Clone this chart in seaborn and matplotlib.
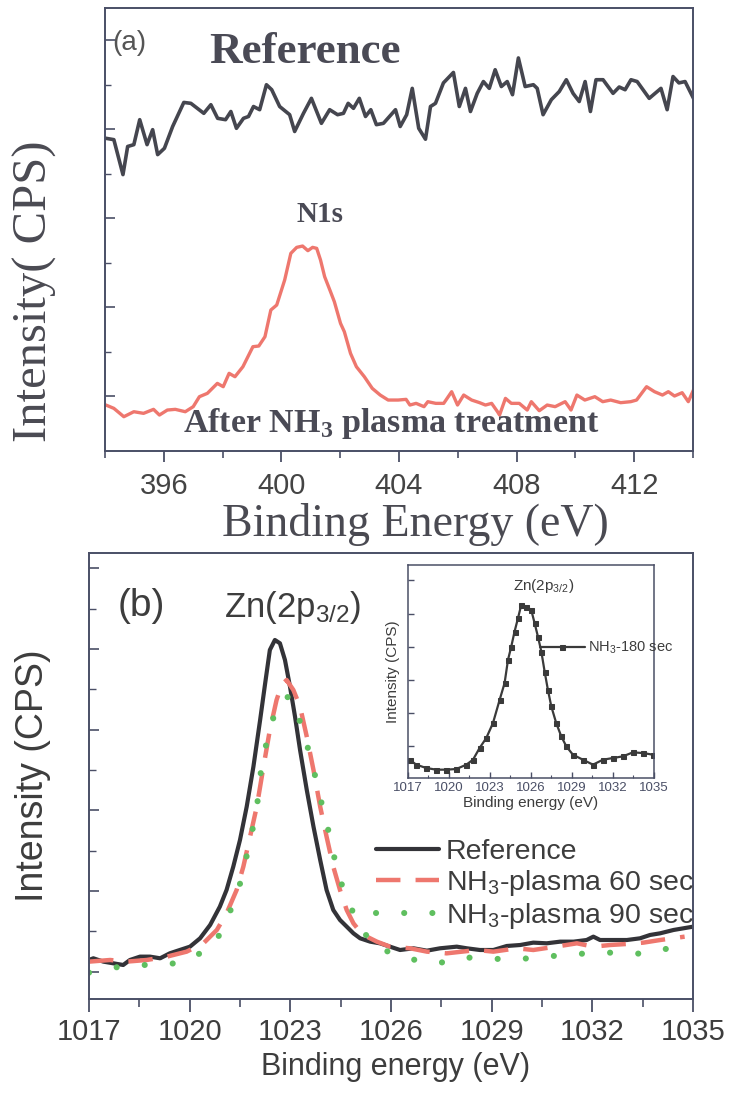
import numpy as np
import matplotlib
matplotlib.use("Agg")
import matplotlib.pyplot as plt
from matplotlib.ticker import FixedLocator, MultipleLocator
import seaborn as sns

sns.set_theme(style="ticks")
plt.rcParams.update({
    "font.family": ["Liberation Sans", "DejaVu Sans"],
    "mathtext.fontset": "custom",
    "mathtext.rm": "Liberation Sans",
    "mathtext.it": "Liberation Sans:italic",
    "mathtext.bf": "Liberation Serif:bold",
    "axes.edgecolor": "#4a4f66",
    "xtick.color": "#4a4f66",
    "ytick.color": "#4a4f66",
    "text.color": "#3d3d3d",
    "axes.labelcolor": "#3d3d3d",
})

# ---- panel (a): N1s, arbitrary intensity ----
ref_a_ev = [394.03, 394.30, 394.61, 394.77, 394.98, 395.18, 395.43, 395.62, 395.79, 396.02,
            396.30, 396.68, 396.92, 397.36, 397.60, 397.83, 398.10, 398.28, 398.47, 398.71,
            398.88, 399.05, 399.26, 399.49, 399.67, 399.94, 400.28, 400.45, 400.75, 401.02,
            401.36, 401.64, 401.91, 402.11, 402.27, 402.45, 402.65, 402.86, 403.04, 403.23,
            403.47, 403.88, 404.04, 404.26, 404.45, 404.67, 404.90, 405.07, 405.24, 405.51,
            405.85, 406.05, 406.26, 406.43, 406.66, 406.87, 407.07, 407.27, 407.48, 407.68,
            407.86, 408.06, 408.29, 408.57, 408.70, 408.90, 409.18, 409.45, 409.69, 409.92,
            410.13, 410.33, 410.51, 410.70, 410.94, 411.28, 411.49, 411.69, 411.89, 412.10,
            412.51, 412.91, 413.12, 413.32, 413.52, 413.73, 414.07]
ref_a_int = [71.3, 71.0, 63.3, 69.5, 69.9, 75.4, 69.9, 73.2, 67.7, 69.1,
             73.9, 79.2, 79.0, 76.8, 78.7, 75.7, 75.4, 77.2, 73.5, 75.7,
             76.1, 78.3, 77.6, 83.1, 82.0, 78.3, 76.5, 72.8, 76.8, 80.1,
             74.6, 77.6, 76.5, 76.8, 79.0, 77.9, 80.1, 76.1, 77.6, 74.3,
             74.6, 77.6, 73.9, 76.5, 82.3, 73.5, 71.1, 78.3, 79.0, 83.5,
             85.8, 78.3, 82.3, 77.2, 81.2, 83.8, 82.3, 86.4, 82.7, 83.8,
             80.9, 89.0, 82.7, 83.1, 82.3, 76.5, 79.8, 81.6, 84.2, 81.2,
             79.4, 83.8, 77.2, 84.2, 84.2, 81.2, 82.6, 82.0, 84.2, 83.8,
             80.1, 82.3, 77.6, 84.9, 83.5, 83.8, 79.4]

nh3_a_ev = [394.03, 394.30, 394.64, 394.98, 395.31, 395.65, 395.85, 396.12, 396.39, 396.73,
            397.00, 397.21, 397.48, 397.82, 398.02, 398.22, 398.42, 398.69, 399.03, 399.23,
            399.44, 399.64, 399.84, 400.11, 400.32, 400.52, 400.72, 400.90, 401.06, 401.20,
            401.33, 401.47, 401.67, 401.80, 402.01, 402.14, 402.35, 402.55, 402.82, 403.09,
            403.36, 403.63, 403.97, 404.24, 404.37, 404.58, 404.85, 404.98, 405.25, 405.52,
            405.79, 405.99, 406.20, 406.47, 406.74, 406.94, 407.15, 407.35, 407.42, 407.62,
            407.82, 408.09, 408.36, 408.50, 408.77, 409.04, 409.31, 409.65, 409.85, 410.05,
            410.32, 410.66, 410.93, 411.20, 411.54, 411.88, 412.08, 412.42, 412.69, 412.96,
            413.16, 413.37, 413.63, 413.84, 414.04]
nh3_a_int = [12.55, 11.82, 9.98, 11.08, 10.72, 11.60, 10.35, 11.45, 11.60, 11.08,
             12.19, 14.39, 15.12, 17.32, 16.59, 19.53, 18.79, 20.99, 25.40, 25.55,
             27.60, 33.48, 34.58, 40.08, 45.96, 47.28, 47.57, 46.55, 47.28, 47.06,
             44.49, 40.82, 37.51, 35.31, 30.54, 28.70, 23.93, 20.99, 18.79, 16.22,
             14.75, 13.65, 13.65, 13.80, 12.55, 12.92, 12.19, 13.29, 12.92, 12.92,
             15.49, 12.55, 14.75, 13.65, 13.07, 12.55, 12.92, 11.08, 10.35, 14.02,
             12.92, 12.92, 11.45, 13.29, 11.30, 12.55, 12.19, 13.29, 11.45, 14.75,
             13.65, 14.39, 13.29, 13.65, 13.07, 13.29, 13.65, 16.59, 15.49, 14.75,
             15.49, 14.54, 15.27, 13.29, 16.22]

# ---- panel (b): Zn 2p3/2 ----
ref_b_ev = [1017.00, 1017.13, 1017.43, 1017.72, 1018.02, 1018.22, 1018.52, 1018.82, 1019.12, 1019.41,
            1019.71, 1020.01, 1020.31, 1020.61, 1020.90, 1021.10, 1021.30, 1021.50, 1021.70, 1021.90,
            1022.10, 1022.25, 1022.39, 1022.54, 1022.69, 1022.84, 1022.99, 1023.14, 1023.29, 1023.49,
            1023.69, 1023.89, 1024.08, 1024.28, 1024.48, 1024.68, 1024.88, 1025.08, 1025.38, 1025.67,
            1025.97, 1026.27, 1026.67, 1027.07, 1027.46, 1027.96, 1028.26, 1028.65, 1029.05, 1029.45,
            1029.85, 1030.24, 1030.64, 1031.04, 1031.44, 1031.83, 1032.03, 1032.23, 1032.63, 1033.03,
            1033.42, 1033.72, 1034.02, 1034.42, 1035.00]
ref_b_int = [8.74, 9.12, 8.37, 8.00, 7.62, 8.74, 9.49, 9.49, 9.12, 10.24,
             10.99, 11.73, 13.60, 16.59, 20.70, 24.44, 29.67, 35.65, 43.12, 52.09,
             62.56, 70.78, 78.25, 80.49, 79.75, 76.01, 70.03, 63.30, 55.83, 46.86,
             38.64, 31.16, 24.44, 19.95, 17.71, 16.22, 14.72, 13.60, 12.85, 12.48,
             11.73, 10.98, 11.36, 10.83, 11.36, 11.73, 11.36, 10.98, 10.98, 11.88,
             12.10, 12.63, 12.48, 12.85, 12.85, 13.22, 13.97, 13.22, 13.22, 13.22,
             13.60, 14.35, 14.72, 15.47, 16.21]

p60_ev = [1017.00, 1017.63, 1018.12, 1018.72, 1019.32, 1019.91, 1020.41, 1020.81, 1021.10, 1021.40,
          1021.60, 1021.80, 1022.00, 1022.20, 1022.39, 1022.59, 1022.74, 1022.89, 1023.09, 1023.29,
          1023.49, 1023.69, 1023.89, 1024.08, 1024.28, 1024.48, 1024.68, 1024.88, 1025.08, 1025.28,
          1025.58, 1025.97, 1026.57, 1027.07, 1027.66, 1028.56, 1029.05, 1029.75, 1030.24, 1031.04,
          1031.54, 1032.03, 1032.53, 1033.03, 1033.52, 1034.02, 1034.75]
p60_int = [8.37, 8.74, 8.37, 8.74, 9.49, 10.61, 12.48, 15.47, 19.20, 24.44,
           29.67, 36.39, 43.12, 52.09, 60.31, 67.04, 70.40, 71.52, 69.28, 65.54,
           58.82, 51.34, 43.12, 36.39, 29.67, 24.44, 19.95, 16.96, 15.09, 13.97,
           12.85, 11.73, 11.36, 10.61, 10.23, 10.98, 10.61, 11.36, 10.98, 11.88,
           12.48, 11.73, 12.10, 12.33, 12.63, 13.22, 13.97]

p90_ev = [1017.00, 1017.18, 1017.92, 1018.62, 1019.32, 1019.91, 1020.71, 1021.05, 1021.35, 1021.55,
          1021.85, 1022.00, 1022.15, 1022.30, 1022.49, 1022.69, 1022.89, 1023.09, 1023.24, 1023.44,
          1023.64, 1023.79, 1023.98, 1024.13, 1024.28, 1024.48, 1024.68, 1024.88, 1025.13, 1025.38,
          1026.02, 1026.72, 1027.41, 1028.11, 1028.80, 1029.45, 1030.14, 1030.84, 1031.54, 1032.23,
          1032.93, 1033.57, 1034.27, 1035.00]
p90_int = [5.90, 6.13, 7.25, 7.62, 7.62, 8.74, 11.73, 16.96, 22.19, 27.05,
           37.14, 42.75, 52.84, 57.70, 62.93, 67.04, 67.79, 67.04, 63.30, 58.45,
           53.21, 48.35, 42.38, 37.89, 32.66, 26.68, 22.94, 19.20, 16.22, 12.48,
           10.23, 8.74, 7.99, 9.34, 9.11, 8.89, 9.11, 9.64, 10.08, 10.38,
           10.38, 10.08, 11.36, 12.10]

# ---- inset: NH3 180 sec ----
p180_ev = [1017.12, 1017.61, 1018.34, 1019.07, 1019.80, 1020.54, 1021.27, 1021.76, 1022.24, 1022.73,
           1023.22, 1023.71, 1024.07, 1024.32, 1024.56, 1024.80, 1025.05, 1025.29, 1025.66, 1026.02,
           1026.27, 1026.51, 1026.76, 1027.00, 1027.24, 1027.49, 1027.85, 1028.22, 1028.59, 1029.07,
           1029.80, 1030.54, 1031.27, 1032.00, 1032.73, 1033.46, 1034.20, 1034.93]
p180_int = [8.59, 6.25, 4.69, 3.91, 3.91, 4.22, 6.25, 8.59, 14.06, 18.75,
            25.78, 36.72, 44.53, 55.47, 61.72, 68.75, 75.00, 81.25, 80.47, 78.91,
            72.66, 66.41, 59.38, 50.00, 41.41, 33.59, 25.78, 19.53, 14.84, 10.94,
            8.59, 6.25, 8.59, 9.38, 10.16, 12.03, 11.72, 10.94]

a_ticks = [396, 400, 404, 408, 412]
b_ticks = [1017, 1020, 1023, 1026, 1029, 1032, 1035]

DARK = "#45464f"
RED = "#ee776e"
GREEN = "#5fbf5f"
SERIF = ["Liberation Serif", "DejaVu Serif"]

fig = plt.figure(figsize=(7.36, 10.95), dpi=100)

# ===================== (a) =====================
ax_a = fig.add_axes([0.1427, 0.5881, 0.7989, 0.4046])
sns.lineplot(x=ref_a_ev, y=ref_a_int, ax=ax_a, color=DARK, lw=2.6,
             estimator=None, sort=False)
sns.lineplot(x=nh3_a_ev, y=nh3_a_int, ax=ax_a, color=RED, lw=2.4,
             estimator=None, sort=False)
ax_a.set_xlim(394, 414)
ax_a.set_ylim(2.42, 100)
ax_a.set_xticks(a_ticks)
ax_a.xaxis.set_minor_locator(MultipleLocator(2))
ax_a.yaxis.set_major_locator(FixedLocator(np.arange(14.54, 100, 19.6)))
ax_a.yaxis.set_minor_locator(FixedLocator(np.arange(24.34, 100, 19.6)))
ax_a.set_yticklabels([])
ax_a.tick_params(axis="x", which="major", direction="out", length=8, width=1.3,
                 labelsize=21, pad=7, labelcolor="#444444")
ax_a.tick_params(axis="x", which="minor", direction="out", length=5, width=1.2)
ax_a.tick_params(axis="y", which="major", direction="in", length=7, width=1.2)
ax_a.tick_params(axis="y", which="minor", direction="in", length=4, width=1.0)
for s in ax_a.spines.values():
    s.set_linewidth(1.4)
ax_a.set_xlabel("Binding Energy (eV)", fontsize=33, family=SERIF, color="#4a4a52")
ax_a.xaxis.set_label_coords(0.527, -0.118)
ax_a.set_ylabel("Intensity( CPS)", fontsize=35, family=SERIF, color="#4a4a52")
ax_a.yaxis.set_label_coords(-0.082, 0.36)
ax_a.text(0.012, 0.92, "(a)", transform=ax_a.transAxes, fontsize=20,
          color="#555555", va="center", ha="left")
ax_a.text(0.34, 0.90, "Reference", transform=ax_a.transAxes, fontsize=32.5,
          family=SERIF, weight="bold", color="#4a4a55", ha="center", va="center")
ax_a.text(0.366, 0.533, "N1s", transform=ax_a.transAxes, fontsize=21,
          family=SERIF, weight="bold", color="#4a4a55", ha="center", va="center")
ax_a.text(0.486, 0.062, r"After NH$_\mathbf{3}$ plasma treatment", transform=ax_a.transAxes,
          fontsize=24.5, family=SERIF, weight="bold", color="#4a4a55",
          ha="center", va="center")

# ===================== (b) =====================
ax_b = fig.add_axes([0.1209, 0.0877, 0.8207, 0.4073])
sns.lineplot(x=ref_b_ev, y=ref_b_int, ax=ax_b, color="#333338", lw=3.0,
             estimator=None, sort=False, label="Reference")
sns.lineplot(x=p60_ev, y=p60_int, ax=ax_b, color=RED, lw=3.2,
             estimator=None, sort=False, label=r"NH$_3$-plasma 60 sec",
             linestyle=(0, (5.5, 3.4)))
sns.lineplot(x=p90_ev, y=p90_int, ax=ax_b, color=GREEN, lw=4.4,
             estimator=None, sort=False, label=r"NH$_3$-plasma 90 sec",
             linestyle=(0, (0.01, 4.6)), dash_capstyle="round")
ax_b.set_xlim(1017, 1035)
ax_b.set_ylim(0, 100)
ax_b.set_xticks(b_ticks)
ax_b.xaxis.set_minor_locator(MultipleLocator(1.5))
ax_b.yaxis.set_major_locator(FixedLocator(np.arange(6.1, 100, 18.1)))
ax_b.yaxis.set_minor_locator(FixedLocator(np.arange(15.15, 100, 18.1)))
ax_b.set_yticklabels([])
ax_b.tick_params(axis="x", which="major", direction="out", length=9, width=1.3,
                 labelsize=21, pad=5, labelcolor="#3d3d3d")
ax_b.tick_params(axis="x", which="minor", direction="out", length=6, width=1.2)
ax_b.tick_params(axis="y", which="major", direction="in", length=7, width=1.2)
ax_b.tick_params(axis="y", which="minor", direction="in", length=5, width=1.0)
for s in ax_b.spines.values():
    s.set_linewidth(1.4)
ax_b.set_xlabel("Binding energy (eV)", fontsize=22)
ax_b.xaxis.set_label_coords(0.507, -0.118)
ax_b.set_ylabel("Intensity (CPS)", fontsize=27)
ax_b.yaxis.set_label_coords(-0.063, 0.5)
ax_b.text(0.086, 0.88, "(b)", transform=ax_b.transAxes, fontsize=28,
          ha="center", va="center")
ax_b.text(0.338, 0.878, r"Zn(2p$_{3/2}$)", transform=ax_b.transAxes, fontsize=25,
          ha="center", va="center")
ax_b.legend(loc="upper left", bbox_to_anchor=(0.475, 0.358), frameon=False,
            fontsize=20.5, handlelength=2.2, handletextpad=0.25, labelspacing=0.1,
            borderpad=0, borderaxespad=0)

# ===================== inset =====================
ax_i = fig.add_axes([0.5543, 0.2895, 0.3342, 0.1945])
sns.lineplot(x=p180_ev, y=p180_int, ax=ax_i, color="#3a3a3a", lw=1.6,
             marker="s", markersize=3.6, markeredgecolor="#3a3a3a",
             estimator=None, sort=False, label=r"NH$_3$-180 sec")
ax_i.set_xlim(1017, 1035)
ax_i.set_ylim(0, 100)
ax_i.set_xticks(b_ticks)
ax_i.xaxis.set_minor_locator(MultipleLocator(1.5))
ax_i.yaxis.set_major_locator(FixedLocator(np.arange(14.8, 100, 15.6)))
ax_i.set_yticklabels([])
ax_i.tick_params(axis="x", which="major", direction="in", length=4, width=1.0,
                 labelsize=9.5, pad=3)
ax_i.tick_params(axis="x", which="minor", direction="in", length=2.5, width=0.8)
ax_i.tick_params(axis="y", direction="in", length=4, width=1.0)
for s in ax_i.spines.values():
    s.set_linewidth(1.1)
ax_i.set_xlabel("Binding energy (eV)", fontsize=11, labelpad=1)
ax_i.set_ylabel("Intensity (CPS)", fontsize=11, labelpad=2)
ax_i.text(0.55, 0.90, r"Zn(2p$_{3/2}$)", transform=ax_i.transAxes, fontsize=11,
          ha="center", va="center")
ax_i.legend(loc="center left", bbox_to_anchor=(0.535, 0.61), frameon=False,
            fontsize=10.5, handlelength=3.1, handletextpad=0.25,
            borderpad=0, borderaxespad=0)

fig.savefig("out.png", dpi=100, facecolor="white")
